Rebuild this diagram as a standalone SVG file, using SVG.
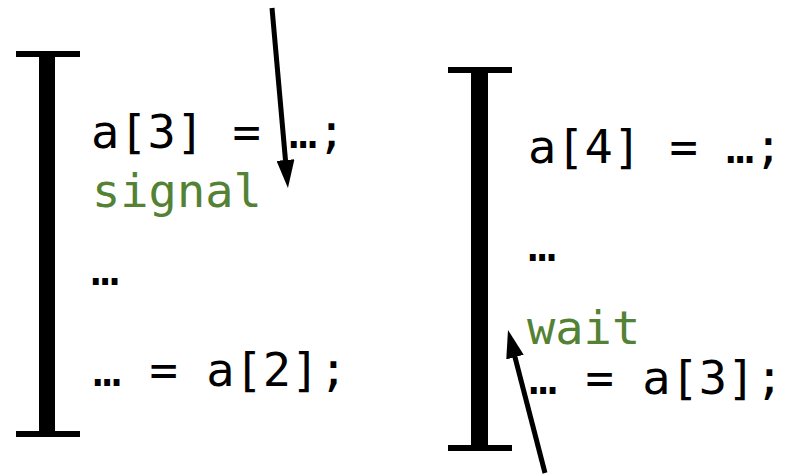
<svg xmlns="http://www.w3.org/2000/svg" width="788" height="475" viewBox="0 0 788 475">
  <style>
    .code { font-family: "DejaVu Sans Mono", "Liberation Mono", monospace; font-size: 47px; fill: #000; }
    .kw { fill: #548235; }
    .bar { fill: #000; }
    .arrow { stroke: #000; stroke-width: 5; fill: none; }
  </style>
  <defs>
    <marker id="head" markerUnits="userSpaceOnUse" markerWidth="28" markerHeight="18" refX="6" refY="9" orient="auto">
      <path d="M0,0 L28,9 L0,18 z" fill="#000"/>
    </marker>
  </defs>
  <rect width="788" height="475" fill="#fff"/>

  <g id="thread1">
    <rect class="bar" x="39" y="51" width="16" height="386"/>
    <rect class="bar" x="16" y="51" width="64" height="6"/>
    <rect class="bar" x="16" y="431" width="64" height="6"/>
    <text class="code" x="91" y="148">a[3] = …;</text>
    <text class="code kw" x="92" y="207">signal</text>
    <text class="code" x="91" y="285">…</text>
    <text class="code" x="93" y="386">… = a[2];</text>
  </g>

  <g id="thread2">
    <rect class="bar" x="471" y="67" width="17" height="384"/>
    <rect class="bar" x="448" y="67" width="64" height="6"/>
    <rect class="bar" x="448" y="445" width="64" height="6"/>
    <text class="code" x="528" y="163">a[4] = …;</text>
    <text class="code" x="528" y="261">…</text>
    <text class="code kw" x="527" y="344">wait</text>
    <text class="code" x="529" y="394">… = a[3];</text>
  </g>

  <g id="connectors">
    <line class="arrow" x1="272" y1="8" x2="286" y2="166" marker-end="url(#head)"/>
    <line class="arrow" x1="545" y1="473" x2="513.5" y2="351.3" marker-end="url(#head)"/>
  </g>
</svg>
